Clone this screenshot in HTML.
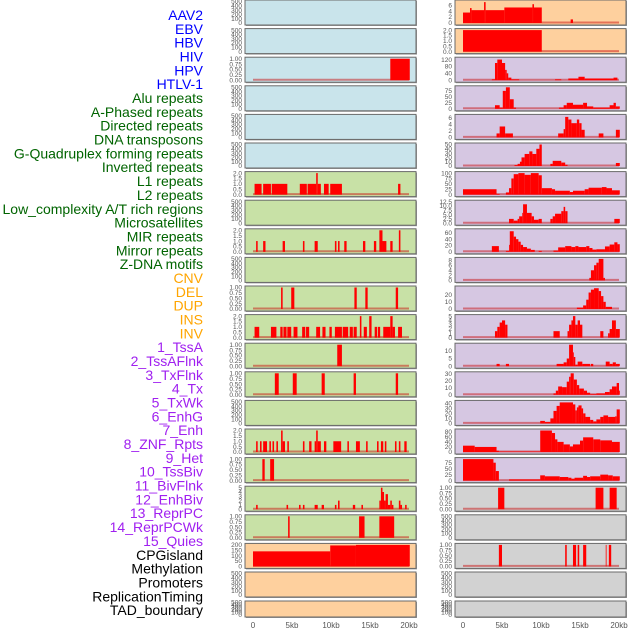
<!DOCTYPE html>
<html><head><meta charset="utf-8"><style>
html,body{margin:0;padding:0;background:#fff;width:630px;height:630px;overflow:hidden}
svg{display:block}
</style></head><body>
<svg id="chart" width="630" height="630" xmlns="http://www.w3.org/2000/svg" font-family="Liberation Sans, sans-serif"></svg>
<script>
const trackLabels = ["AAV2","EBV","HBV","HIV","HPV","HTLV-1","Alu repeats","A-Phased repeats","Directed repeats","DNA transposons","G-Quadruplex forming repeats","Inverted repeats","L1 repeats","L2 repeats","Low_complexity A/T rich regions","Microsatellites","MIR repeats","Mirror repeats","Z-DNA motifs","CNV","DEL","DUP","INS","INV","1_TssA","2_TssAFlnk","3_TxFlnk","4_Tx","5_TxWk","6_EnhG","7_Enh","8_ZNF_Rpts","9_Het","10_TssBiv","11_BivFlnk","12_EnhBiv","13_ReprPC","14_ReprPCWk","15_Quies","CPGisland","Methylation","Promoters","ReplicationTiming","TAD_boundary"];
const labelGroups = [6,13,5,15,5];
const groupColors = ["#0000ff","#006400","#ffa500","#a020f0","#000000"];
const xTicks = [0,5,10,15,20];
const xTickLabels = ["0","5kb","10kb","15kb","20kb"];
const leftBg = ["b","b","b","b","b","b","g","g","g","g","g","g","g","g","g","g","g","g","g","o","o","o"];
const rightBg = ["o","o","p","p","p","p","p","p","p","p","p","p","p","p","p","p","p","y","y","y","y","y"];
const leftMax = [500,500,1,500,500,500,2,500,2,500,1,2,1,1,500,2,1,5,1,200,500,500];
const rightMax = [7.2,2,125,90,6.5,50,100,12.5,68,8.5,30,5,14,31,43,85,90,1,500,1,500,500];
const leftTicks = [[0,100,200,300,400,500],[0,100,200,300,400,500],[0,0.25,0.5,0.75,1],[0,100,200,300,400,500],[0,100,200,300,400,500],[0,100,200,300,400,500],[0,0.5,1,1.5,2],[0,100,200,300,400,500],[0,0.5,1,1.5,2],[0,100,200,300,400,500],[0,0.25,0.5,0.75,1],[0,0.5,1,1.5,2],[0,0.25,0.5,0.75,1],[0,0.25,0.5,0.75,1],[0,100,200,300,400,500],[0,0.5,1,1.5,2],[0,0.25,0.5,0.75,1],[0,1,2,3,4,5],[0,0.25,0.5,0.75,1],[0,50,100,150,200],[0,100,200,300,400,500],[0,100,200,300,400,500]];
const rightTicks = [[0,2,4,6],[0,0.5,1,1.5,2],[0,40,80,120],[0,25,50,75],[0,2,4,6],[0,10,20,30,40,50],[0,25,50,75,100],[0,2.5,5,7.5,10,12.5],[0,20,40,60],[0,2,4,6,8],[0,10,20],[0,1,2,3,4,5],[0,5,10],[0,10,20,30],[0,10,20,30,40],[0,20,40,60,80],[0,25,50,75],[0,0.25,0.5,0.75,1],[0,100,200,300,400,500],[0,0.25,0.5,0.75,1],[0,100,200,300,400,500],[0,100,200,300,400,500]];
const leftSegs = [[],[],[[17.6,20.1,1]],[],[],[],
[[0.2,1.1,1],[1.3,2.3,1],[2.4,4.4,1],[6.0,6.9,1],[7.0,8.1,1],[8.1,8.3,2],[8.3,8.7,1],[9.1,9.7,1],[9.9,11.4,1],[18.6,18.9,1]],
[],
[[0.4,0.6,1],[1.3,1.6,1],[3.8,4.1,1],[6.4,6.6,1],[7.9,8.3,1],[10.5,10.7,1],[10.9,11.1,1],[11.7,12.0,1],[14.1,14.4,1],[15.5,15.8,1],[16.2,16.6,2],[16.6,17.1,1],[17.6,17.9,1],[18.7,18.9,2]],
[],
[[3.6,3.8,1],[4.9,5.3,1],[13.0,13.3,1],[14.4,14.7,1],[18.3,18.6,1]],
[[0.2,0.8,1],[2.3,3.0,1],[3.5,3.8,1],[3.9,4.3,1],[4.4,4.9,1],[5.2,5.7,1],[6.3,6.7,1],[6.8,7.2,1],[8.1,8.6,1],[8.9,9.3,1],[9.8,10.1,1],[10.5,11.4,1],[11.5,12.2,1],[12.4,12.8,1],[12.9,13.3,1],[13.7,13.9,2],[14.2,14.6,1],[14.9,15.2,2],[15.6,15.9,1],[16.0,16.3,1],[16.7,17.6,1],[17.6,17.9,2],[17.9,18.2,1],[18.6,19.1,1]],
[[10.8,11.4,1]],
[[2.8,3.3,1],[5.1,5.6,1],[8.8,9.2,1],[12.9,13.2,1],[18.3,18.6,1]],
[],
[[0.4,0.6,1],[0.9,1.1,1],[1.3,1.8,1],[2.1,2.3,1],[2.5,2.7,1],[3.0,3.2,1],[3.6,3.8,2],[3.8,4.1,1],[4.4,4.6,1],[6.4,6.6,1],[7.2,7.5,1],[7.9,8.1,1],[8.1,8.3,2],[8.3,8.7,1],[9.1,9.4,1],[10.3,11.3,1],[12.1,12.3,1],[13.2,13.7,1],[14.5,14.7,1],[15.9,16.1,1],[16.4,16.7,1],[16.9,17.1,1],[18.2,18.4,1],[18.7,18.9,1],[19.4,19.7,1]],
[[1.2,1.5,1],[2.2,2.7,1]],
[[0.4,0.6,1],[4.3,4.5,1],[5.9,6.1,1],[6.4,6.6,1],[7.9,8.3,1],[8.8,9.1,1],[10.5,10.7,1],[10.9,11.1,2],[12.8,13.1,1],[13.9,14.1,1],[16.2,16.4,2],[16.4,16.6,5],[16.6,16.8,4],[16.8,17.0,2],[17.0,17.3,3.5],[17.3,17.6,1],[17.6,17.8,2],[17.8,18.0,1],[18.7,18.9,2],[18.9,19.1,1],[19.5,19.7,1]],
[[4.5,4.7,1],[13.6,14.3,1],[16.2,18.1,1]],
[[0,9.9,140],[9.9,13.2,195],[13.2,20.1,200]],
[],[]];
const rightSegs = [
[[0,0.9,3.5],[0.9,1.1,5],[1.1,2.7,4.3],[2.7,2.9,7],[2.9,5.3,4.3],[5.3,8.9,5.2],[8.9,9.1,6.3],[9.1,10.1,5.2],[13.8,14.1,1.2]],
[[0,10.1,2]],
[[3.7,4.1,5],[4.1,4.4,100],[4.4,5.0,120],[5.0,5.4,100],[5.4,5.6,60],[5.6,5.8,40],[5.8,6.2,15],[6.2,7.2,5],[11.8,12.6,5],[13.5,14.8,10],[14.8,15.6,20],[15.6,19.3,10],[19.3,19.8,15]],
[[4.1,4.7,15],[4.7,5.1,5],[5.1,5.5,75],[5.5,6.0,90],[6.0,6.5,40],[6.5,6.8,5],[12.3,12.9,5],[12.9,13.3,15],[13.3,14.1,25],[14.1,15.4,17],[15.4,15.9,25],[15.9,16.7,10],[16.7,18.8,5],[18.8,19.3,15],[19.3,19.6,25],[19.6,20.1,10]],
[[4.3,4.7,1.2],[4.7,5.4,3.3],[5.4,6.4,1.2],[12.2,12.9,1.2],[12.9,13.1,2.5],[13.1,13.5,6.2],[13.5,13.9,5.4],[13.9,14.6,4.3],[14.6,14.9,5.4],[14.9,15.2,4.3],[15.2,15.6,2.3],[17.4,18.0,1.2],[19.6,20.1,2.3]],
[[6.6,7.0,2],[7.0,7.3,5],[7.3,7.5,10],[7.5,7.9,20],[7.9,8.5,28],[8.5,8.9,34],[8.9,9.4,28],[9.4,9.8,40],[9.8,10.1,50],[11.2,11.5,5],[11.5,12.6,12],[12.6,13.1,8],[13.1,13.4,3],[19.6,20.1,7]],
[[0,4.3,25],[4.3,4.7,3],[5.5,5.9,10],[5.9,6.2,30],[6.2,6.5,75],[6.5,7.1,95],[7.1,7.9,100],[7.9,8.7,92],[8.7,9.7,100],[9.7,10.1,90],[10.1,11.4,30],[11.4,11.8,25],[11.8,13.7,18],[13.7,14.1,12],[14.1,15.6,18],[15.6,16.1,25],[16.1,17.8,32],[17.8,18.4,35],[18.4,19.1,30],[19.1,20.1,20]],
[[5.9,6.5,2.5],[6.5,7.0,1.5],[7.0,7.2,2.5],[7.2,7.6,4],[7.6,7.7,6],[7.7,8.2,11],[8.2,8.8,6],[8.8,9.1,4],[9.1,9.7,2],[9.7,10.1,2.5],[11.2,11.5,2.5],[11.5,11.8,4],[11.8,12.6,5.5],[12.6,12.9,7],[12.9,13.1,9.5],[13.1,13.4,7],[19.4,20.1,2.5]],
[[3.7,4.6,18],[5.5,5.9,3],[5.9,6.0,22],[6.0,6.5,65],[6.5,6.8,48],[6.8,7.1,40],[7.1,7.4,32],[7.4,7.7,22],[7.7,8.2,15],[8.2,8.7,10],[8.7,9.2,6],[9.7,10.1,3],[11.6,12.2,4],[12.2,13.1,14],[13.1,13.9,18],[13.9,14.4,15],[14.4,14.8,18],[14.8,15.8,15],[15.8,16.2,18],[16.2,16.6,12],[16.6,17.1,7],[17.1,18.2,8],[18.2,18.8,17],[18.8,19.4,23],[19.4,19.8,30],[19.8,20.1,24]],
[[16.2,16.4,1],[16.4,16.8,4],[16.8,17.1,6],[17.1,17.4,7],[17.4,18.0,8.5],[18.0,18.2,1]],
[[14.6,15.4,2],[15.4,15.8,5],[15.8,16.1,13],[16.1,16.4,23],[16.4,16.8,27],[16.8,17.4,29],[17.4,17.7,25],[17.7,18.0,18],[18.0,18.3,10],[18.3,19.1,3]],
[[4.1,4.4,1.5],[4.4,4.7,2.5],[4.7,5.0,3.5],[5.0,5.4,4],[5.4,5.7,3],[11.6,12.4,1.5],[13.4,13.6,1.5],[13.6,13.9,3],[13.9,14.1,4],[14.1,14.4,5],[14.4,14.7,3],[14.7,15.0,4],[15.0,15.3,3],[17.6,18.0,1.5],[18.6,18.8,1],[18.8,19.1,2],[19.1,19.6,4],[19.6,20.1,2]],
[[4.3,4.7,1.5],[5.5,5.9,1.5],[12.0,12.9,1.5],[12.9,13.3,2.5],[13.3,13.6,5],[13.6,14.1,14],[14.1,14.2,9],[14.2,14.4,6],[14.4,14.7,1],[14.7,15.3,3],[15.3,16.3,1.5],[16.4,16.7,1.5],[18.3,18.8,3],[18.8,19.2,1.5],[19.2,19.6,2.5],[19.6,20.1,1.5]],
[[11.6,11.9,2],[11.9,12.2,6],[12.2,12.7,12],[12.7,13.3,11],[13.3,13.6,19],[13.6,13.8,26],[13.8,14.2,31],[14.2,14.6,22],[14.6,14.9,14],[14.9,15.5,9],[15.5,15.9,6],[15.9,16.3,3],[16.3,17.1,1],[17.1,18.2,2],[18.2,18.8,4],[18.8,19.1,8],[19.1,19.7,12],[19.7,20.0,17],[20.0,20.1,6]],
[[9.9,10.5,5],[10.5,11.2,3],[11.2,11.6,10],[11.6,12.0,25],[12.0,12.4,35],[12.4,14.1,42],[14.1,14.4,38],[14.4,14.6,26],[14.6,14.8,32],[14.8,15.2,36],[15.2,15.4,30],[15.4,15.7,20],[15.7,16.3,13],[16.3,16.7,7],[16.7,17.1,4],[17.1,17.6,8],[17.6,18.0,13],[18.0,18.6,16],[18.6,19.5,13],[19.5,19.7,14],[19.7,20.1,28]],
[[0,1.5,25],[1.5,4.3,20],[4.3,4.6,5],[4.6,9.9,2],[9.9,11.4,85],[11.4,11.8,75],[11.8,12.1,50],[12.1,12.9,40],[12.9,13.7,30],[13.7,14.1,22],[14.1,15.0,30],[15.0,15.4,45],[15.4,16.7,58],[16.7,17.6,50],[17.6,19.1,46],[19.1,20.1,40]],
[[0,3.9,90],[3.9,4.2,75],[4.2,4.6,40],[5.9,9.9,5],[9.9,10.5,22],[10.5,12.4,18],[12.4,13.5,15],[13.5,13.9,12],[13.9,14.3,8],[14.3,15.4,12],[15.4,15.9,20],[15.9,16.3,15],[16.3,17.6,18],[17.6,18.6,25],[18.6,19.2,22],[19.2,20.1,18]],
[[4.5,5.3,1],[17.0,18.0,1],[18.8,19.7,1]],
[],
[[4.6,5.0,1],[13.1,13.3,1],[14.1,14.5,1],[14.7,14.9,1],[15.4,15.8,1],[18.3,18.4,1],[18.7,19.0,1]],
[],[]];

const NS = "http://www.w3.org/2000/svg";
const svg = document.getElementById("chart");
const bgColors = {b:"#c9e4eb",g:"#c8e1a6",o:"#fed09e",p:"#d6c7e2",y:"#d2d2d2"};
function mk(tag, attrs, parent){const e=document.createElementNS(NS,tag);for(const k in attrs)e.setAttribute(k,attrs[k]);(parent||svg).appendChild(e);return e;}
function rowTop(i){return i<21?i*28.6:601;}
function rowH(i){return i<21?25:16;}
function xScale(side,kb){return (side==="left"?253:463)+kb*7.8;}
function fmt(ticks,v){
  const step=ticks[1]-ticks[0];
  if(step===0.25) return v.toFixed(2);
  if(step===0.5||step===2.5) return v.toFixed(1);
  return String(v);
}

// labels
let li=0;
labelGroups.forEach((n,g)=>{
  for(let k=0;k<n;k++){
    const t=mk("text",{x:203,y:15+li*13.84+5,"text-anchor":"end","font-size":"14",fill:groupColors[g]});
    t.textContent=trackLabels[li];
    
    
    li++;
  }
});

function drawPanel(side,i,bgKey,ymax,ticks,segs){
  const x0=side==="left"?245:455, w=171;
  const top=rowTop(i), h=rowH(i);
  const yb=top+h-2, yt=top+1.5;
  const ys=v=>yb-(v/ymax)*(yb-yt);
  const g=mk("g",{});
  
  
  mk("rect",{x:x0+1,y:top+1,width:w,height:h,fill:"#9a9a9a"},g);
  mk("rect",{x:x0,y:top,width:w,height:h,fill:bgColors[bgKey],stroke:"#6a6a6a","stroke-width":1},g);
  if(segs.length){
    const bl=mk("line",{x1:xScale(side,0),x2:xScale(side,20),y1:yb-0.5,y2:yb-0.5,stroke:"rgba(200,0,0,0.45)","stroke-width":2},g);
    
    
  }
  segs.forEach(s=>{
    const xa=xScale(side,s[0]), xb=xScale(side,s[1]), y=ys(s[2]);
    const r=mk("rect",{x:xa,y:y,width:Math.max(0.8,xb-xa),height:yb-y,fill:"#ff0000"},g);
    
    
  });
  const tx=x0-3;
  ticks.forEach(v=>{
    const t=mk("text",{x:tx,y:ys(v)+2.2,"text-anchor":"end","font-size":"6.5",fill:"#555"},g);
    t.textContent=fmt(ticks,v);
    
    
  });
}
for(let i=0;i<22;i++){
  drawPanel("left",i,leftBg[i],leftMax[i],leftTicks[i],leftSegs[i]);
  drawPanel("right",i,rightBg[i],rightMax[i],rightTicks[i],rightSegs[i]);
}
["left","right"].forEach(side=>{
  xTicks.forEach((v,k)=>{
    const t=mk("text",{x:xScale(side,v),y:628,"text-anchor":"middle","font-size":"8",fill:"#555"});
    t.textContent=xTickLabels[k];
    
    
  });
});
</script>
</body></html>
